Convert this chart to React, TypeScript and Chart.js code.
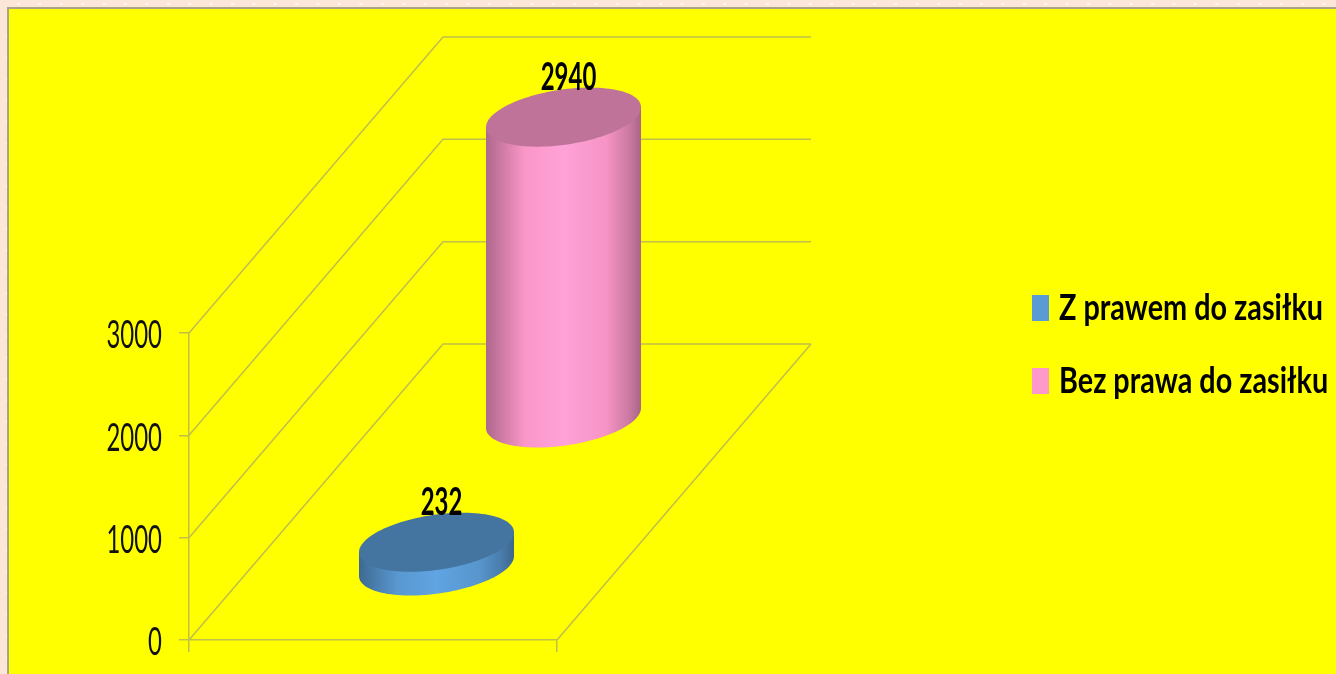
import React, { useEffect, useRef } from "react";
import { Chart, registerables } from "chart.js";

Chart.register(...registerables);

const categories = [""];
const seriesNames = ["Z prawem do zasiłku", "Bez prawa do zasiłku"];
const seriesValues = [[232], [2940]];
const seriesColors = ["#5B9BD5", "#FF99CC"];
const yTicks = [0, 1000, 2000, 3000];

const DEPTH_X = 254;
const DEPTH_Y = 296;
const GRID = "#BFBF4A";
const RX = 77.5;
const TILT = -10;
const RY = 27.8;
const SIDE_STOPS: [number, number][] = [
  [0, 0.68], [0.08, 0.78], [0.25, 0.98], [0.5, 1.06], [0.78, 0.96], [0.92, 0.8], [1, 0.66],
];

const shade = (hex: string, k: number) => {
  const n = parseInt(hex.slice(1), 16);
  const c = [(n >> 16) & 255, (n >> 8) & 255, n & 255].map((v) => Math.min(255, Math.round(v * k)));
  return `rgb(${c[0]},${c[1]},${c[2]})`;
};

const scene = {
  id: "scene",
  beforeDraw(chart: any) {
    const { ctx, width, height } = chart;
    ctx.save();
    ctx.fillStyle = "#FCE6D8";
    ctx.fillRect(0, 0, width, height);
    ctx.fillStyle = "#FFF6F0";
    for (let x = 18; x < width; x += 21.4) ctx.fillRect(x - 1, 3, 3, 2);
    for (let y = 35; y < height; y += 21.4) ctx.fillRect(6, y, 2, 3);
    ctx.fillStyle = "#A8A488";
    ctx.fillRect(7, 7, width, height);
    ctx.fillStyle = "#FFFF00";
    ctx.fillRect(9, 9, width, height);
    ctx.restore();
  },
  beforeDatasetsDraw(chart: any) {
    const { ctx, chartArea: a, scales } = chart;
    ctx.save();
    ctx.strokeStyle = GRID;
    ctx.lineWidth = 1.5;
    ctx.beginPath();
    for (const v of yTicks) {
      const y = scales.y.getPixelForValue(v);
      ctx.moveTo(a.left, y);
      ctx.lineTo(a.left + DEPTH_X, y - DEPTH_Y);
      ctx.lineTo(a.right + DEPTH_X, y - DEPTH_Y);
    }
    ctx.moveTo(a.right, a.bottom);
    ctx.lineTo(a.right + DEPTH_X, a.bottom - DEPTH_Y);
    ctx.stroke();
    ctx.restore();
  },
  beforeDatasetDraw(chart: any, args: any) {
    const { ctx, scales } = chart;
    const i = args.index;
    const color = chart.data.datasets[i].backgroundColor;
    const depth = (i + 0.5) / chart.data.datasets.length;
    const cx = scales.x.getPixelForValue(0) + depth * DEPTH_X;
    const shift = depth * DEPTH_Y;
    const bottom = scales.y.getPixelForValue(0) - shift;
    const top = scales.y.getPixelForValue(chart.data.datasets[i].data[0]) - shift;
    const pt = (t: number, cy: number) => [cx + RX * Math.cos(t), cy + TILT * Math.cos(t) + RY * Math.sin(t)];
    ctx.save();
    const g = ctx.createLinearGradient(cx - RX, 0, cx + RX, 0);
    for (const [o, k] of SIDE_STOPS) g.addColorStop(o, shade(color, k));
    ctx.fillStyle = g;
    ctx.beginPath();
    for (let s = 0; s <= 60; s++) {
      const [x, y] = pt(Math.PI - (Math.PI * s) / 60, bottom);
      s === 0 ? ctx.moveTo(x, y) : ctx.lineTo(x, y);
    }
    const [rx, ry] = pt(0, top);
    const [lx, ly] = pt(Math.PI, top);
    ctx.lineTo(rx, ry);
    ctx.lineTo(lx, ly);
    ctx.closePath();
    ctx.fill();
    ctx.fillStyle = shade(color, 0.75);
    ctx.beginPath();
    for (let s = 0; s <= 120; s++) {
      const [x, y] = pt((2 * Math.PI * s) / 120, top);
      s === 0 ? ctx.moveTo(x, y) : ctx.lineTo(x, y);
    }
    ctx.closePath();
    ctx.fill();
    ctx.restore();
    return false;
  },
  afterDatasetsDraw(chart: any) {
    const { ctx, scales } = chart;
    ctx.save();
    ctx.font = "bold 38px Lato";
    ctx.fillStyle = "#000";
    ctx.textAlign = "center";
    ctx.textBaseline = "alphabetic";
    chart.data.datasets.forEach((d: any, i: number) => {
      const depth = (i + 0.5) / chart.data.datasets.length;
      const x = scales.x.getPixelForValue(0) + depth * DEPTH_X + 5;
      const y = scales.y.getPixelForValue(d.data[0]) - depth * DEPTH_Y - 27;
      ctx.fillText(String(d.data[0]), x, y);
    });
    ctx.restore();
  },
  afterLayout(chart: any) {
    const l = chart.legend;
    const w = l.right - l.left;
    const h = l.bottom - l.top;
    l.left = 995;
    l.right = 995 + w;
    l.top = 253;
    l.bottom = 253 + h;
  },
};

export default function App() {
  const ref = useRef<HTMLCanvasElement>(null);
  useEffect(() => {
    const canvas = ref.current!;
    const ctx: any = canvas.getContext("2d");
    // The source picture is stretched vertically: narrow every text about its anchor.
    const fill = ctx.fillText.bind(ctx);
    ctx.fillText = (t: string, x: number, y: number) => {
      const isLegend = seriesNames.includes(t);
      const isTick = !isLegend && ctx.textBaseline === "middle";
      ctx.save();
      ctx.translate(isLegend ? x - 8 : x, isTick ? y + 3 : y);
      ctx.scale(isLegend ? 0.8 : 0.63, 1);
      fill(t, 0, 0);
      ctx.restore();
    };
    const chart = new Chart(canvas, {
      type: "bar",
      data: {
        labels: categories,
        datasets: seriesNames.map((label, i) => ({
          label,
          data: seriesValues[i],
          backgroundColor: seriesColors[i],
        })),
      },
      options: {
        responsive: false,
        animation: false,
        layout: { padding: { top: 333, right: 779, left: 0, bottom: 0 } },
        scales: {
          x: {
            afterFit: (s: any) => { s.height = 34; },
            grid: { drawOnChartArea: false, tickLength: 12, color: GRID, lineWidth: 1.5 },
            border: { color: GRID, width: 1.5 },
            ticks: { display: false },
          },
          y: {
            min: 0,
            max: 3000,
            afterFit: (s: any) => { s.width = 189; },
            grid: { drawOnChartArea: false, tickLength: 10, color: GRID, lineWidth: 1.5 },
            border: { color: GRID, width: 1.5 },
            afterBuildTicks: (s: any) => { s.ticks = yTicks.map((value) => ({ value })); },
            ticks: {
              padding: 17,
              color: "#111",
              font: { family: "Lato", size: 38, lineHeight: 0.84 },
              callback: (v: any) => String(v),
            },
          },
        },
        plugins: {
          tooltip: { enabled: false },
          legend: {
            position: "chartArea",
            align: "start",
            labels: {
              boxWidth: 17,
              boxHeight: 26,
              padding: 37,
              color: "#000",
              font: { family: "Lato", size: 36, weight: "bold" },
            },
          },
        },
      } as any,
      plugins: [scene],
    } as any);
    return () => chart.destroy();
  }, []);
  return (
    <div style={{ position: "absolute", left: 0, top: 0, width: 1336, height: 674, overflow: "hidden" }}>
      <canvas ref={ref} width={1336} height={674} style={{ display: "block", width: 1336, height: 674, filter: "blur(0.5px)" }} />
    </div>
  );
}
